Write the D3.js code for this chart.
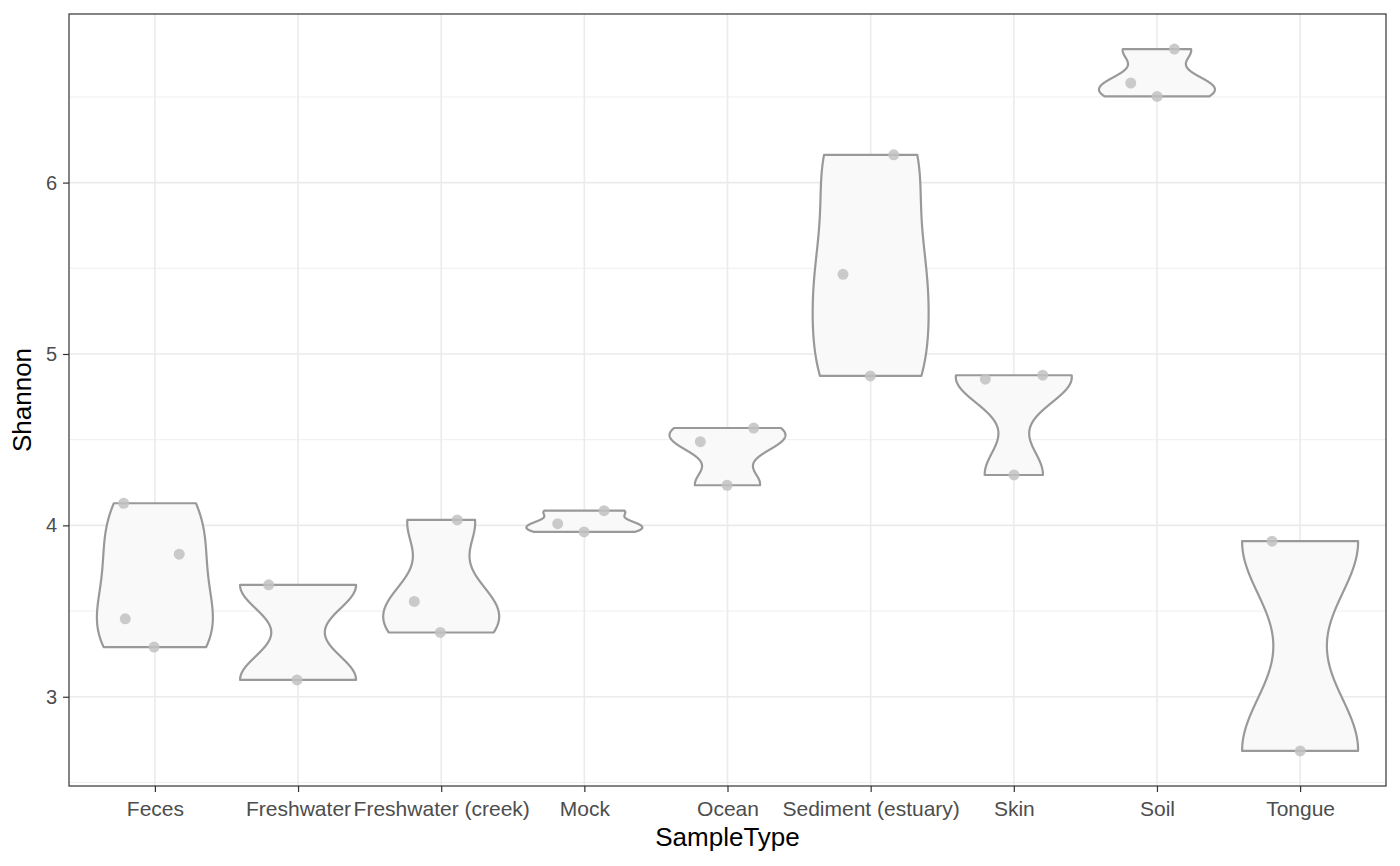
<!DOCTYPE html>
<html>
<head>
<meta charset="utf-8">
<script src="https://cdn.jsdelivr.net/npm/d3@7"></script>
<style>
  html, body { margin: 0; padding: 0; background: #ffffff; }
  text { font-family: "Liberation Sans", Arial, Helvetica, sans-serif; }
</style>
</head>
<body>
<svg id="chart" width="1400" height="866"></svg>
<script>
// ---- data ----
const sampleTypes = ["Feces", "Freshwater", "Freshwater (creek)", "Mock", "Ocean",
  "Sediment (estuary)", "Skin", "Soil", "Tongue"];

const pointType = [
  "Feces", "Feces", "Feces", "Feces",
  "Freshwater", "Freshwater",
  "Freshwater (creek)", "Freshwater (creek)", "Freshwater (creek)",
  "Mock", "Mock", "Mock",
  "Ocean", "Ocean", "Ocean",
  "Sediment (estuary)", "Sediment (estuary)", "Sediment (estuary)",
  "Skin", "Skin", "Skin",
  "Soil", "Soil", "Soil",
  "Tongue", "Tongue"
];
const pointShannon = [
  4.129, 3.832, 3.455, 3.290,
  3.653, 3.098,
  4.032, 3.556, 3.375,
  4.086, 4.010, 3.962,
  4.568, 4.488, 4.234,
  6.162, 5.465, 4.872,
  4.876, 4.853, 4.294,
  6.779, 6.581, 6.503,
  3.908, 2.684
];
// horizontal jitter of each point (in category units)
const pointJitter = [
  -0.218, 0.170, -0.207, -0.006,
  -0.205, -0.007,
  0.112, -0.188, -0.006,
  0.138, -0.186, -0.002,
  0.183, -0.190, -0.003,
  0.161, -0.193, -0.002,
  0.202, -0.199, 0.001,
  0.122, -0.183, 0.001,
  -0.196, 0.001
];
const yTicks = [3, 4, 5, 6];
const yMinorTicks = [2.5, 3.5, 4.5, 5.5, 6.5];
const xTitle = "SampleType";
const yTitle = "Shannon";

// ---- layout ----
const svg = d3.select("#chart");
const panel = { left: 69, right: 1386, top: 14, bottom: 786 };

const x = d3.scalePoint().domain(sampleTypes).range([panel.left, panel.right]).padding(0.6);
const ext = d3.extent(pointShannon);
const pad = (ext[1] - ext[0]) * 0.05;
const y = d3.scaleLinear().domain([ext[0] - pad, ext[1] + pad]).range([panel.bottom, panel.top]);
const step = x.step();
const violinHalf = 0.405 * step;

// panel background & grid
const g = svg.append("g");
g.append("rect").attr("x", panel.left).attr("y", panel.top)
  .attr("width", panel.right - panel.left).attr("height", panel.bottom - panel.top)
  .attr("fill", "#ffffff");

g.selectAll("line.ymin").data(yMinorTicks.filter(v => v >= y.domain()[0] && v <= y.domain()[1]))
  .enter().append("line")
  .attr("x1", panel.left).attr("x2", panel.right)
  .attr("y1", d => y(d)).attr("y2", d => y(d))
  .attr("stroke", "#ebebeb").attr("stroke-width", 0.8);
g.selectAll("line.ymaj").data(yTicks).enter().append("line")
  .attr("x1", panel.left).attr("x2", panel.right)
  .attr("y1", d => y(d)).attr("y2", d => y(d))
  .attr("stroke", "#ebebeb").attr("stroke-width", 1.6);
g.selectAll("line.xmaj").data(sampleTypes).enter().append("line")
  .attr("y1", panel.top).attr("y2", panel.bottom)
  .attr("x1", d => x(d)).attr("x2", d => x(d))
  .attr("stroke", "#ebebeb").attr("stroke-width", 1.6);

// ---- violins (Gaussian KDE, bw.nrd0, trimmed, scale = width) ----
function quantile7(sorted, p) {
  const h = (sorted.length - 1) * p;
  const lo = Math.floor(h), hi = Math.ceil(h);
  return sorted[lo] + (h - lo) * (sorted[hi] - sorted[lo]);
}
function bwNrd0(vals) {
  const s = vals.slice().sort((a, b) => a - b);
  const sd = d3.deviation(s);
  const iqr = quantile7(s, 0.75) - quantile7(s, 0.25);
  let lo = Math.min(sd, iqr / 1.34);
  if (!(lo > 0)) lo = sd || Math.abs(s[0]) || 1;
  return 0.9 * lo * Math.pow(s.length, -0.2);
}
const violinData = sampleTypes.map(cat => {
  const vals = pointShannon.filter((v, i) => pointType[i] === cat);
  const bw = bwNrd0(vals);
  const [lo, hi] = d3.extent(vals);
  const n = 512;
  const pts = d3.range(n).map(k => {
    const v = lo + (hi - lo) * k / (n - 1);
    const dens = d3.sum(vals, xi => Math.exp(-0.5 * ((v - xi) / bw) ** 2)) / (vals.length * bw * Math.sqrt(2 * Math.PI));
    return { v, dens };
  });
  const mx = d3.max(pts, p => p.dens);
  pts.forEach(p => p.w = p.dens / mx);
  return { cat, pts };
});

const area = d3.area()
  .y(p => y(p.v));
g.selectAll("path.violin").data(violinData).enter().append("path")
  .attr("d", d => area
      .x0(p => x(d.cat) - p.w * violinHalf)
      .x1(p => x(d.cat) + p.w * violinHalf)(d.pts))
  .attr("fill", "#f9f9f9")
  .attr("stroke", "#999999")
  .attr("stroke-width", 2.2)
  .attr("stroke-linejoin", "round");

// ---- jittered points ----
g.selectAll("circle.pt").data(pointShannon).enter().append("circle")
  .attr("cx", (v, i) => x(pointType[i]) + pointJitter[i] * step)
  .attr("cy", v => y(v))
  .attr("r", 5.5)
  .attr("fill", "#c2c2c2")
  .attr("fill-opacity", 0.85);

// panel border
g.append("rect").attr("x", panel.left).attr("y", panel.top)
  .attr("width", panel.right - panel.left).attr("height", panel.bottom - panel.top)
  .attr("fill", "none").attr("stroke", "#333333").attr("stroke-width", 1.2);

// ---- axes ----
const xAxis = d3.axisBottom(x).tickSizeOuter(0).tickSizeInner(6).tickPadding(9);
const xa = svg.append("g").attr("transform", `translate(0,${panel.bottom})`).call(xAxis);
xa.select(".domain").remove();
xa.selectAll(".tick line").attr("stroke", "#333333").attr("stroke-width", 1.2);
xa.selectAll(".tick text").attr("fill", "#4d4d4d").style("font-size", "21px")
  .style("font-family", "'Liberation Sans', Arial, sans-serif");

const yAxis = d3.axisLeft(y).tickValues(yTicks).tickFormat(d3.format("d"))
  .tickSizeOuter(0).tickSizeInner(6).tickPadding(6);
const ya = svg.append("g").attr("transform", `translate(${panel.left},0)`).call(yAxis);
ya.select(".domain").remove();
ya.selectAll(".tick line").attr("stroke", "#333333").attr("stroke-width", 1.2);
ya.selectAll(".tick text").attr("fill", "#4d4d4d").style("font-size", "20px")
  .style("font-family", "'Liberation Sans', Arial, sans-serif");

// titles
svg.append("text")
  .attr("x", (panel.left + panel.right) / 2).attr("y", 846)
  .attr("text-anchor", "middle").attr("fill", "#000000")
  .style("font-size", "26px").text(xTitle);
svg.append("text")
  .attr("transform", `translate(31,${(panel.top + panel.bottom) / 2}) rotate(-90)`)
  .attr("text-anchor", "middle").attr("fill", "#000000")
  .style("font-size", "26px").text(yTitle);
</script>
</body>
</html>
